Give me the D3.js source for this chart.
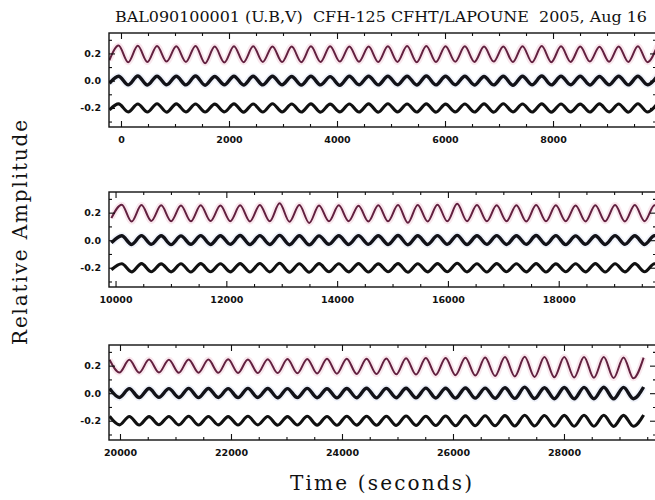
<!DOCTYPE html>
<html><head><meta charset="utf-8">
<script src="https://cdn.jsdelivr.net/npm/d3@7"></script>
<style>body{margin:0;background:#fff}svg{display:block}</style>
</head><body>
<svg id="c" width="655" height="500"></svg>
<script>
// ---------------- data ----------------
const titleText = "BAL090100001 (U.B,V)  CFH-125 CFHT/LAPOUNE  2005, Aug 16";
const yLabel = "Relative Amplitude";
const xLabel = "Time (seconds)";
const yTickValues = [-0.2, 0.0, 0.2];
const yTickLabels = ["-0.2", "0.0", "0.2"];
const yMinorValues = [-0.3, -0.1, 0.1, 0.3];
const xTicks1 = [0, 2000, 4000, 6000, 8000];
const xTicks2 = [10000, 12000, 14000, 16000, 18000];
const xTicks3 = [20000, 22000, 24000, 26000, 28000];
const xDomain1 = [-222, 9907];
const xDomain2 = [9882, 19756];
const xDomain3 = [19802, 29658];
const yDomain = [-0.34, 0.35];

// panel 1 : times of the turning points (s) and values of U, B, V
const t1 = [-215, -45, 133, 311, 489, 667, 846, 1024, 1202, 1380,
  1558, 1736, 1914, 2092, 2270, 2448, 2626, 2805, 2983, 3161,
  3339, 3517, 3695, 3873, 4051, 4229, 4407, 4586, 4764, 4942,
  5120, 5298, 5476, 5654, 5832, 6010, 6188, 6367, 6545, 6723,
  6901, 7079, 7257, 7435, 7613, 7791, 7969, 8148, 8326, 8504,
  8682, 8860, 9038, 9216, 9394, 9572, 9750, 9929];
const u1 = [0.150, 0.258, 0.135, 0.256, 0.137, 0.255, 0.140, 0.252, 0.138, 0.255,
  0.128, 0.250, 0.134, 0.253, 0.136, 0.252, 0.138, 0.251, 0.137, 0.250,
  0.136, 0.252, 0.138, 0.253, 0.140, 0.251, 0.139, 0.250, 0.137, 0.252,
  0.138, 0.254, 0.136, 0.255, 0.137, 0.253, 0.139, 0.252, 0.138, 0.250,
  0.140, 0.251, 0.137, 0.253, 0.135, 0.254, 0.136, 0.252, 0.138, 0.250,
  0.140, 0.249, 0.139, 0.251, 0.138, 0.253, 0.136, 0.255];
const b1 = [-0.020, 0.033, -0.031, 0.034, -0.032, 0.033, -0.030, 0.032, -0.031, 0.034,
  -0.033, 0.031, -0.030, 0.033, -0.032, 0.032, -0.031, 0.033, -0.030, 0.031,
  -0.032, 0.032, -0.031, 0.030, -0.034, 0.032, -0.030, 0.033, -0.031, 0.032,
  -0.030, 0.033, -0.032, 0.034, -0.031, 0.032, -0.030, 0.033, -0.032, 0.031,
  -0.031, 0.032, -0.033, 0.033, -0.030, 0.034, -0.031, 0.032, -0.030, 0.033,
  -0.032, 0.031, -0.030, 0.033, -0.031, 0.032, -0.030, 0.034];
const v1 = [-0.215, -0.170, -0.229, -0.171, -0.230, -0.169, -0.231, -0.170, -0.229, -0.171,
  -0.230, -0.172, -0.229, -0.170, -0.231, -0.171, -0.230, -0.169, -0.229, -0.171,
  -0.230, -0.170, -0.231, -0.172, -0.229, -0.171, -0.230, -0.170, -0.231, -0.169,
  -0.229, -0.171, -0.230, -0.170, -0.231, -0.172, -0.229, -0.171, -0.230, -0.170,
  -0.231, -0.169, -0.229, -0.171, -0.230, -0.170, -0.231, -0.171, -0.229, -0.172,
  -0.230, -0.170, -0.229, -0.171, -0.231, -0.169, -0.230, -0.170];

// panel 2
const t2 = [9925, 10112, 10290, 10468, 10646, 10824, 11003, 11181, 11359, 11537,
  11715, 11893, 12071, 12249, 12427, 12605, 12783, 12962, 13140, 13318,
  13496, 13674, 13852, 14030, 14208, 14386, 14564, 14743, 14921, 15099,
  15277, 15455, 15633, 15811, 15989, 16167, 16345, 16524, 16702, 16880,
  17058, 17236, 17414, 17592, 17770, 17948, 18126, 18305, 18483, 18661,
  18839, 19017, 19195, 19373, 19551, 19729, 19907];
const u2 = [0.160, 0.258, 0.135, 0.255, 0.140, 0.253, 0.138, 0.252, 0.137, 0.254,
  0.139, 0.252, 0.138, 0.253, 0.136, 0.256, 0.137, 0.268, 0.134, 0.255,
  0.125, 0.252, 0.137, 0.253, 0.138, 0.251, 0.136, 0.254, 0.137, 0.255,
  0.126, 0.256, 0.136, 0.258, 0.137, 0.264, 0.138, 0.255, 0.137, 0.253,
  0.138, 0.254, 0.136, 0.255, 0.137, 0.253, 0.138, 0.252, 0.136, 0.254,
  0.137, 0.255, 0.136, 0.256, 0.138, 0.254, 0.137];
const b2 = [-0.020, 0.032, -0.031, 0.033, -0.030, 0.032, -0.032, 0.031, -0.030, 0.033,
  -0.031, 0.032, -0.030, 0.034, -0.032, 0.033, -0.031, 0.035, -0.033, 0.032,
  -0.034, 0.031, -0.030, 0.032, -0.031, 0.033, -0.030, 0.032, -0.031, 0.034,
  -0.033, 0.032, -0.031, 0.033, -0.030, 0.035, -0.031, 0.032, -0.030, 0.033,
  -0.031, 0.032, -0.030, 0.034, -0.031, 0.033, -0.032, 0.031, -0.030, 0.032,
  -0.031, 0.033, -0.030, 0.032, -0.031, 0.033, -0.030];
const v2 = [-0.215, -0.171, -0.230, -0.170, -0.229, -0.172, -0.230, -0.171, -0.231, -0.170,
  -0.229, -0.171, -0.230, -0.170, -0.231, -0.169, -0.230, -0.168, -0.232, -0.171,
  -0.232, -0.170, -0.229, -0.171, -0.230, -0.170, -0.231, -0.172, -0.229, -0.170,
  -0.232, -0.171, -0.230, -0.170, -0.229, -0.168, -0.230, -0.171, -0.231, -0.170,
  -0.229, -0.171, -0.230, -0.170, -0.231, -0.172, -0.229, -0.171, -0.230, -0.170,
  -0.231, -0.171, -0.230, -0.170, -0.229, -0.171, -0.230];

// panel 3
const t3 = [19812, 19990, 20168, 20346, 20524, 20702, 20881, 21059, 21237, 21415,
  21593, 21771, 21949, 22127, 22305, 22483, 22662, 22840, 23018, 23196,
  23374, 23552, 23730, 23908, 24086, 24264, 24443, 24621, 24799, 24977,
  25155, 25333, 25511, 25689, 25867, 26045, 26224, 26402, 26580, 26758,
  26936, 27114, 27292, 27470, 27648, 27826, 28005, 28183, 28361, 28539,
  28717, 28895, 29073, 29251, 29435];
const u3 = [0.243, 0.150, 0.242, 0.149, 0.244, 0.150, 0.243, 0.148, 0.245, 0.149,
  0.244, 0.148, 0.246, 0.147, 0.245, 0.146, 0.247, 0.146, 0.248, 0.145,
  0.249, 0.143, 0.250, 0.142, 0.251, 0.140, 0.250, 0.139, 0.252, 0.137,
  0.254, 0.135, 0.255, 0.133, 0.256, 0.131, 0.257, 0.128, 0.259, 0.125,
  0.262, 0.122, 0.264, 0.118, 0.263, 0.116, 0.262, 0.114, 0.263, 0.112,
  0.262, 0.110, 0.260, 0.108, 0.258];
const b3 = [0.034, -0.031, 0.033, -0.032, 0.034, -0.030, 0.033, -0.031, 0.035, -0.032,
  0.034, -0.031, 0.033, -0.032, 0.035, -0.031, 0.034, -0.033, 0.033, -0.032,
  0.035, -0.033, 0.032, -0.034, 0.034, -0.033, 0.036, -0.034, 0.035, -0.033,
  0.036, -0.034, 0.037, -0.035, 0.036, -0.036, 0.038, -0.036, 0.037, -0.037,
  0.039, -0.038, 0.044, -0.039, 0.040, -0.040, 0.041, -0.041, 0.042, -0.040,
  0.043, -0.041, 0.042, -0.040, 0.045];
const v3 = [-0.168, -0.230, -0.169, -0.231, -0.170, -0.229, -0.169, -0.230, -0.168, -0.231,
  -0.169, -0.230, -0.170, -0.231, -0.168, -0.230, -0.169, -0.232, -0.170, -0.231,
  -0.168, -0.232, -0.169, -0.233, -0.167, -0.232, -0.168, -0.233, -0.167, -0.234,
  -0.166, -0.234, -0.167, -0.235, -0.166, -0.236, -0.165, -0.236, -0.164, -0.237,
  -0.163, -0.238, -0.160, -0.238, -0.162, -0.239, -0.161, -0.240, -0.160, -0.240,
  -0.160, -0.241, -0.161, -0.240, -0.158];

// ---------------- drawing ----------------
const svg = d3.select("#c");
const frameLeft = 109, frameRight = 656;
const panels = [
  {top: 33, bottom: 127, dom: xDomain1, ticks: xTicks1, t: t1, u: u1, b: b1, v: v1},
  {top: 192, bottom: 287, dom: xDomain2, ticks: xTicks2, t: t2, u: u2, b: b2, v: v2},
  {top: 345, bottom: 440, dom: xDomain3, ticks: xTicks3, t: t3, u: u3, b: b3, v: v3}
];
const defs = svg.append("defs");

panels.forEach((p, i) => {
  const x = d3.scaleLinear().domain(p.dom).range([frameLeft, frameRight]);
  const y = d3.scaleLinear().domain(yDomain).range([p.bottom, p.top]);
  const g = svg.append("g");
  const clipId = "clip" + i;
  defs.append("clipPath").attr("id", clipId).append("rect")
    .attr("x", frameLeft).attr("y", p.top).attr("width", frameRight - frameLeft).attr("height", p.bottom - p.top);

  const data = ser => p.t.map((tt, k) => [tt, ser[k]]);
  const line = d3.line().x(d => x(d[0])).y(d => y(d[1])).curve(d3.curveMonotoneX);
  const dg = g.append("g").attr("clip-path", `url(#${clipId})`);
  // halos (scatter of individual points)
  dg.append("path").attr("d", line(data(p.u))).attr("fill", "none")
    .attr("stroke", "#f1cbd9").attr("stroke-width", 6).attr("opacity", 0.45);
  dg.append("path").attr("d", line(data(p.b))).attr("fill", "none")
    .attr("stroke", "#dce3f3").attr("stroke-width", 7).attr("opacity", 0.45);
  // curves
  dg.append("path").attr("d", line(data(p.u))).attr("fill", "none")
    .attr("stroke", "#62203f").attr("stroke-width", 2);
  dg.append("path").attr("d", line(data(p.b))).attr("fill", "none")
    .attr("stroke", "#121218").attr("stroke-width", 3.4);
  dg.append("path").attr("d", line(data(p.v))).attr("fill", "none")
    .attr("stroke", "#111").attr("stroke-width", 3.1);

  const minor = d3.range(Math.ceil(p.dom[0] / 500) * 500, p.dom[1], 500).filter(v => v % 2000 !== 0);
  const fontStyle = sel => sel.attr("font-family", "'DejaVu Sans', sans-serif")
    .attr("font-weight", "bold").attr("font-size", 9.5).attr("fill", "#111");

  const axB = g.append("g").attr("transform", `translate(0,${p.bottom})`)
    .call(d3.axisBottom(x).tickValues(p.ticks).tickSizeInner(-6).tickSizeOuter(0).tickPadding(9).tickFormat(d3.format("d")));
  axB.selectAll("text").call(fontStyle);
  g.append("g").attr("transform", `translate(0,${p.bottom})`)
    .call(d3.axisBottom(x).tickValues(minor).tickSizeInner(-3).tickSizeOuter(0).tickFormat(""));
  g.append("g").attr("transform", `translate(0,${p.top})`)
    .call(d3.axisTop(x).tickValues(p.ticks).tickSizeInner(-6).tickSizeOuter(0).tickFormat(""));
  g.append("g").attr("transform", `translate(0,${p.top})`)
    .call(d3.axisTop(x).tickValues(minor).tickSizeInner(-3).tickSizeOuter(0).tickFormat(""));

  const axL = g.append("g").attr("transform", `translate(${frameLeft},0)`)
    .call(d3.axisLeft(y).tickValues(yTickValues).tickSizeInner(-6).tickSizeOuter(0).tickPadding(8)
      .tickFormat((d, k) => yTickLabels[k]));
  axL.selectAll("text").call(fontStyle);
  g.append("g").attr("transform", `translate(${frameLeft},0)`)
    .call(d3.axisLeft(y).tickValues(yMinorValues).tickSizeInner(-3).tickSizeOuter(0).tickFormat(""));
  g.append("g").attr("transform", `translate(${frameRight},0)`)
    .call(d3.axisRight(y).tickValues(yTickValues).tickSizeInner(-6).tickSizeOuter(0).tickFormat(""));
  g.append("g").attr("transform", `translate(${frameRight},0)`)
    .call(d3.axisRight(y).tickValues(yMinorValues).tickSizeInner(-3).tickSizeOuter(0).tickFormat(""));

  g.selectAll(".domain").remove();
  g.selectAll(".tick line").attr("stroke", "#111").attr("stroke-width", 1.1);

  g.append("rect").attr("x", frameLeft).attr("y", p.top)
    .attr("width", frameRight - frameLeft).attr("height", p.bottom - p.top)
    .attr("fill", "none").attr("stroke", "#111").attr("stroke-width", 1.4);
});

svg.append("text").attr("x", 115).attr("y", 22)
  .attr("font-family", "'DejaVu Serif', serif").attr("font-size", 14).attr("fill", "#111")
  .attr("textLength", 532).attr("lengthAdjust", "spacingAndGlyphs")
  .attr("xml:space", "preserve").style("white-space", "pre")
  .text(titleText);

svg.append("text").attr("x", 290).attr("y", 490)
  .attr("font-family", "'DejaVu Serif', serif").attr("font-size", 20).attr("fill", "#111")
  .attr("textLength", 182).attr("lengthAdjust", "spacing")
  .text(xLabel);

svg.append("text").attr("transform", "translate(27,345) rotate(-90)")
  .attr("font-family", "'DejaVu Serif', serif").attr("font-size", 20).attr("fill", "#111")
  .attr("textLength", 225).attr("lengthAdjust", "spacing")
  .text(yLabel);
</script>
</body></html>
